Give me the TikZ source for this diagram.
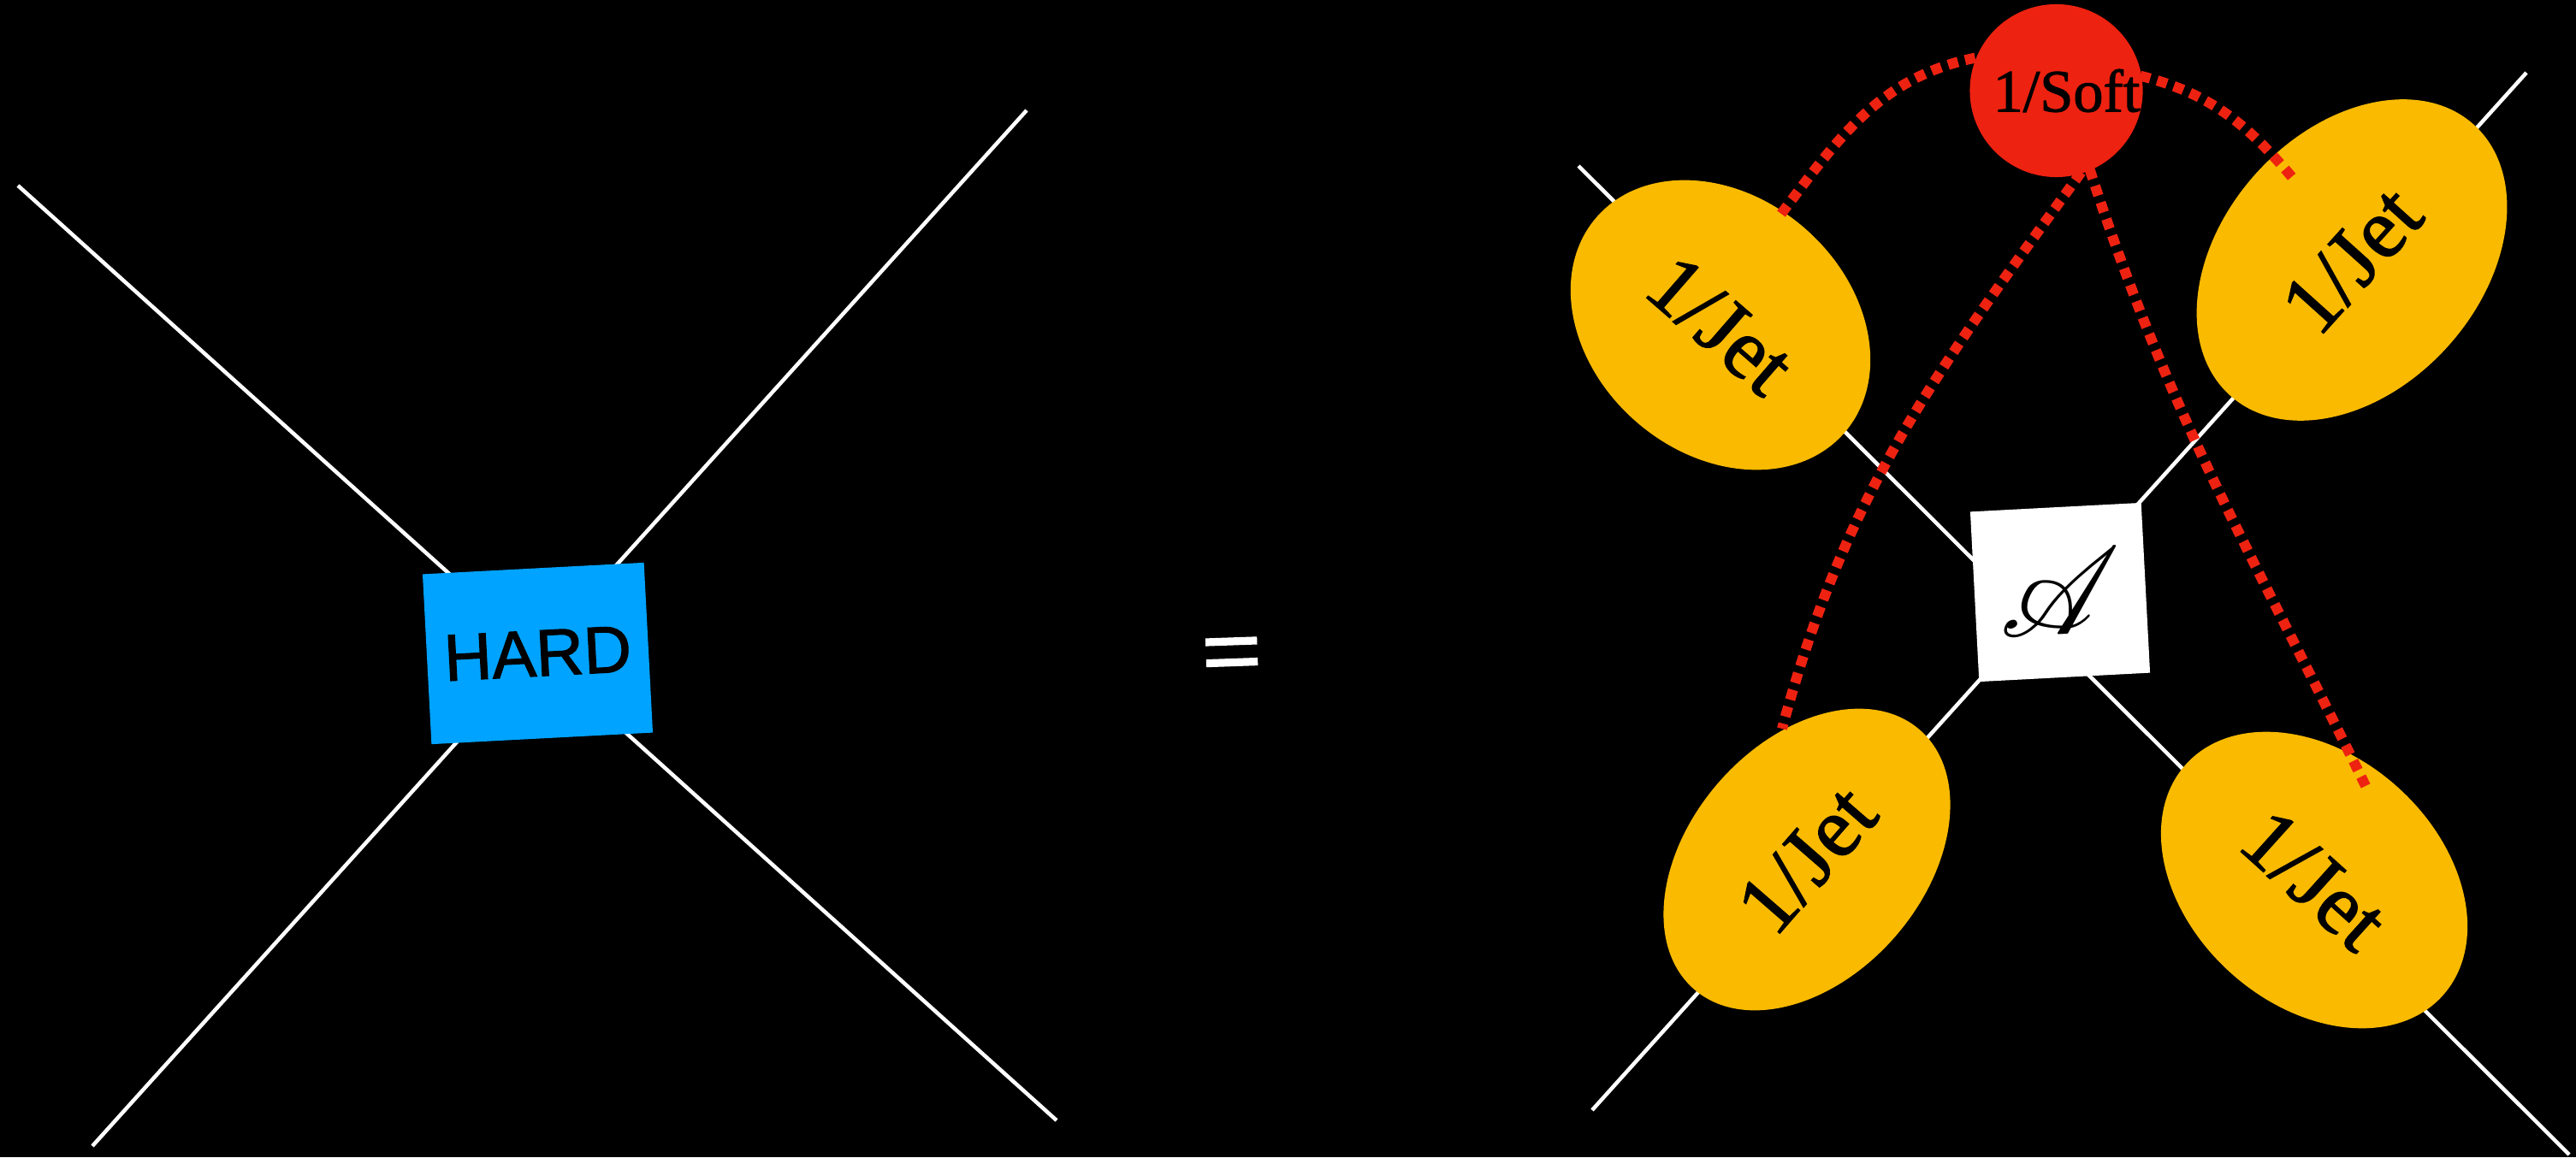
\documentclass[tikz,border=0pt]{standalone}
\usepackage{fontspec}
\usepackage{mathrsfs}
\DeclareFontFamily{U}{rsfs}{\skewchar\font127 }
\DeclareFontShape{U}{rsfs}{m}{n}{<-> rsfs10}{}
\setmainfont{Liberation Serif}
\setsansfont{Liberation Sans}
\newfontfamily\eqfont[FakeBold=2.5]{Liberation Serif}
\newfontfamily\jetfont[FakeBold=1.5]{Liberation Serif}
\newfontfamily\hardfont[FakeBold=1.5]{Liberation Sans}
\usetikzlibrary{shapes.geometric}

\definecolor{jetyellow}{RGB}{249,186,0}
\definecolor{softred}{RGB}{238,34,17}
\definecolor{hardblue}{RGB}{0,163,255}

\begin{document}
\begin{tikzpicture}
	\tikzstyle{every node}=[inner sep=0pt, align=center]
	\tikzstyle{leg}=[white, line width=0.045cm]
	\tikzstyle{jet}=[ellipse, fill=jetyellow, font=\jetfont\fontsize{28.5}{30}\selectfont]
	\tikzstyle{glue}=[softred, line width=0.12cm, dash pattern=on 0.12cm off 0.085cm]
	\fill[black] (0,0) rectangle (30.11,13.53);
	\useasboundingbox (0,0) rectangle (30.11,13.53);
	% left: hard vertex
	\coordinate (L1) at (0.21,11.36);
	\coordinate (L2) at (12.35,0.43);
	\coordinate (R1) at (12.00,12.24);
	\coordinate (R2) at (1.08,0.13);
	\draw [leg] (L1) -- (L2);
	\draw [leg] (R1) -- (R2);
	\node [fill=hardblue, minimum width=2.59cm, minimum height=1.99cm, rotate=3,
		font=\hardfont\fontsize{22}{22}\selectfont] (H) at (6.285,5.89) {HARD};
	\node [white, rotate=2, font=\eqfont\fontsize{35}{35}\selectfont] (E) at (14.40,5.78) {=};
	% right: factorised form
	\coordinate (A1) at (18.45,11.59);
	\coordinate (A2) at (30.03,0.03);
	\coordinate (B1) at (29.53,12.68);
	\coordinate (B2) at (18.61,0.55);
	\draw [leg] (A1) -- (A2);
	\draw [leg] (B1) -- (B2);
	\node [jet, minimum width=3.84cm, minimum height=3.00cm, rotate=-41] (J1) at (20.11,9.73) {1/Jet};
	\node [jet, minimum width=4.26cm, minimum height=3.02cm, rotate=48] (J2) at (27.49,10.49) {1/Jet};
	\node [jet, minimum width=4.02cm, minimum height=2.74cm, rotate=49] (J3) at (21.12,3.48) {1/Jet};
	\node [jet, minimum width=4.04cm, minimum height=2.92cm, rotate=-42] (J4) at (27.05,3.24) {1/Jet};
	\node [fill=white, minimum width=2.0cm, minimum height=1.99cm, rotate=3,
		font=\fontsize{40}{40}\selectfont] (M) at (24.08,6.605) {$\mathscr{A}$};
	% soft exchanges
	\node [circle, minimum size=1.98cm] (S) at (24.035,12.47) {};
	\coordinate (G1) at (20.82,11.03);
	\coordinate (G2) at (26.84,11.40);
	\coordinate (G3) at (20.83,5.01);
	\coordinate (G4) at (27.68,4.28);
	\draw [glue] (G1) to[out=53, in=191] (S.157);
	\draw [glue] (S.10) to[out=-14, in=130] (G2);
	\draw [glue] (S.-73) to[out=234, in=75] (G3);
	\draw [glue] (S.-67) to[out=-72, in=116] (G4);
	\node [circle, fill=softred, minimum size=1.98cm, font=\jetfont\fontsize{20}{20}\selectfont] at (S) {\hspace{0.24cm}1/Soft};
\end{tikzpicture}
\end{document}
